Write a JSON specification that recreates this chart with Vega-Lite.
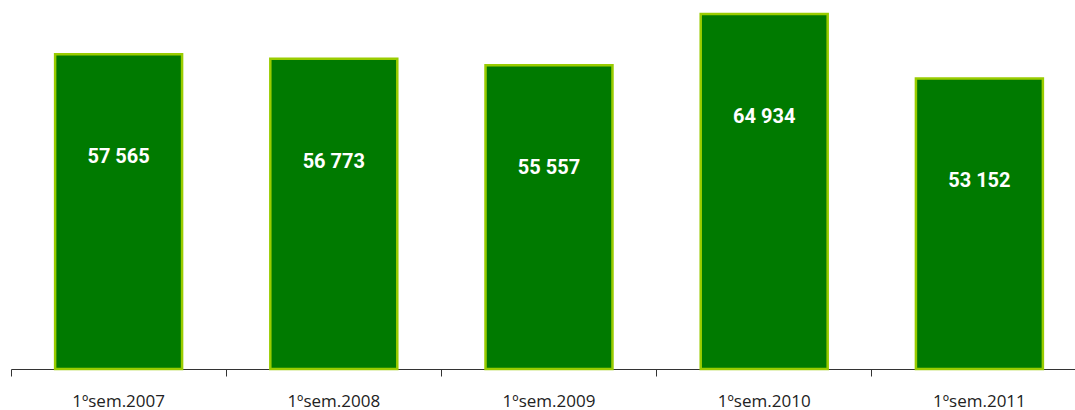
{
  "$schema": "https://vega.github.io/schema/vega-lite/v6.json",
  "width": 1064,
  "height": 369,
  "padding": {"left": 11, "top": 0, "right": 0, "bottom": 41},
  "autosize": {"type": "none"},
  "background": "white",
  "config": {"view": {"stroke": null}},
  "data": {"values": [
    {"period": "1ºsem.2007", "value": 57565, "label": "57 565"},
    {"period": "1ºsem.2008", "value": 56773, "label": "56 773"},
    {"period": "1ºsem.2009", "value": 55557, "label": "55 557"},
    {"period": "1ºsem.2010", "value": 64934, "label": "64 934"},
    {"period": "1ºsem.2011", "value": 53152, "label": "53 152"}
  ]},
  "encoding": {
    "x": {
      "field": "period", "type": "nominal", "sort": null,
      "scale": {"range": [0, 1076], "paddingInner": 0.41, "paddingOuter": 0.205},
      "axis": {
        "title": null, "labelAngle": 0, "bandPosition": -0.347,
        "tickSize": 7, "tickColor": "#333333", "domainColor": "#333333",
        "labelFontSize": 17, "labelFont": "Open Sans", "labelColor": "#222222",
        "labelPadding": 17, "ticks": true, "grid": false
      }
    },
    "y": {
      "field": "value", "type": "quantitative",
      "scale": {"domain": [0, 67500], "nice": false},
      "axis": null
    }
  },
  "layer": [
    {"mark": {"type": "bar", "color": "#007a00", "stroke": "#99cc00", "strokeWidth": 2.5}},
    {"mark": {"type": "text", "color": "white", "fontWeight": "bold", "fontSize": 20, "font": "Roboto", "baseline": "middle", "dy": 103},
     "encoding": {"text": {"field": "label"}}}
  ]
}
